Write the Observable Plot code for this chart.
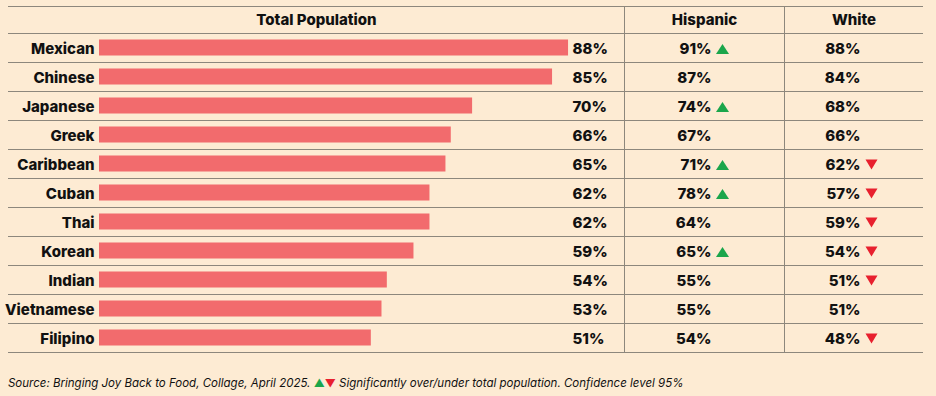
<!DOCTYPE html>
<html>
<head>
<meta charset="utf-8">
<script src="https://cdn.jsdelivr.net/npm/d3@7"></script>
<script src="https://cdn.jsdelivr.net/npm/@observablehq/plot@0.6"></script>
<style>
  html, body { margin: 0; padding: 0; background: #fdebd3; }
  #chart { position: relative; width: 936px; height: 396px; overflow: hidden; }
  #caption {
    position: absolute; left: 8px; top: 374px;
    font-family: Inter, "DejaVu Sans", sans-serif; font-style: italic;
    font-size: 11.5px; line-height: 18px; color: #111; white-space: nowrap;
  }
  #caption .up { color: #1ba64b; font-style: normal; font-size: 11px; }
  #caption .down { color: #e8202e; font-style: normal; font-size: 11px; }
</style>
</head>
<body>
<div id="chart">
  <div id="plot"></div>
  <div id="caption">Source: Bringing Joy Back to Food, Collage, April 2025. <span class="up">▲</span><span class="down">▼</span> Significantly over/under total population. Confidence level 95%</div>
</div>
<script>
// ---- data ----
const categories = ["Mexican","Chinese","Japanese","Greek","Caribbean","Cuban","Thai","Korean","Indian","Vietnamese","Filipino"];
const totalPop  = [88,85,70,66,65,62,62,59,54,53,51];
const hispanic  = [91,87,74,67,71,78,64,65,55,55,54];
const white     = [88,84,68,66,62,57,59,54,51,51,48];
const hispanicSig = [1,0,1,0,1,1,0,1,0,0,0];      // 1 = significantly over
const whiteSig    = [0,0,0,0,-1,-1,-1,-1,-1,0,-1]; // -1 = significantly under
const columnHeaders = ["Total Population","Hispanic","White"];

// ---- layout (pixels) ----
const W = 936, H = 362;
const barStart = 99, pxPerPct = 5.33;
const rowTop = 33, rowBottom = 352, headerTop = 6;
const dividers = [624, 784];
const headerCenters = [316, 704, 853.5];
const totalLabelX = 572, hispLabelX = 711, hispTriX = 722, whiteLabelX = 860, whiteTriX = 871;
const toX = px => (px - barStart) / pxPerPct; // pixel -> x-scale units

const rows = categories.map((name, i) => ({
  name, total: totalPop[i], hisp: hispanic[i], white: white[i],
  hSig: hispanicSig[i], wSig: whiteSig[i]
}));
const bw = (rowBottom - rowTop) / categories.length;

const upTri = { draw(ctx) { ctx.moveTo(-6.5, 5); ctx.lineTo(6.5, 5); ctx.lineTo(0, -5); ctx.closePath(); } };
const downTri = { draw(ctx) { ctx.moveTo(-6, -5); ctx.lineTo(6, -5); ctx.lineTo(0, 5); ctx.closePath(); } };

const font = { fontFamily: "Inter, 'DejaVu Sans', sans-serif", fontWeight: 800, fontSize: 15, fill: "#111", dy: 1 };
const lineColor = "#8d877c";

const chart = Plot.plot({
  width: W, height: H,
  marginLeft: 8, marginRight: 13, marginTop: headerTop, marginBottom: H - rowBottom,
  style: { background: "transparent", overflow: "visible" },
  x: { type: "linear", domain: [0, 100], range: [barStart, barStart + 100 * pxPerPct], axis: null },
  y: { type: "band", domain: categories, range: [rowTop, rowBottom], padding: 0, axis: null },
  marks: [
    // horizontal row rules
    Plot.ruleY(categories, { y: d => d, dy: bw / 2, stroke: lineColor, strokeWidth: 1 }),
    Plot.ruleY([categories[0]], { y: d => d, dy: -bw / 2, stroke: lineColor, strokeWidth: 1 }),
    Plot.ruleY([categories[0]], { y: d => d, dy: -bw / 2 - (rowTop - headerTop), stroke: lineColor, strokeWidth: 1 }),
    // column dividers
    Plot.ruleX(dividers.map(toX), { x: d => d, stroke: lineColor, strokeWidth: 1 }),
    // bars
    Plot.barX(rows, { x: "total", y: "name", fill: "#f26b6d", insetTop: 6.5, insetBottom: 6.5 }),
    // category labels
    Plot.text(rows, { x: 0, y: "name", text: "name", textAnchor: "end", dx: -5, ...font }),
    // total labels
    Plot.text(rows, { x: toX(totalLabelX), y: "name", text: d => d.total + "%", textAnchor: "start", ...font }),
    // hispanic
    Plot.text(rows, { x: toX(hispLabelX), y: "name", text: d => d.hisp + "%", textAnchor: "end", ...font }),
    Plot.dot(rows.filter(d => d.hSig > 0), { x: toX(hispTriX), y: "name", symbol: upTri, fill: "#1ba64b", stroke: "none", dy: 1 }),
    // white
    Plot.text(rows, { x: toX(whiteLabelX), y: "name", text: d => d.white + "%", textAnchor: "end", ...font }),
    Plot.dot(rows.filter(d => d.wSig < 0), { x: toX(whiteTriX), y: "name", symbol: downTri, fill: "#e8202e", stroke: "none", dy: 0.5 }),
    // headers
    Plot.text(columnHeaders, { x: (d, i) => toX(headerCenters[i]), y: () => categories[0], dy: -27.5, text: d => d, textAnchor: "middle", ...font, dy: -27.5 })
  ]
});
document.getElementById("plot").appendChild(chart);
</script>
</body>
</html>
